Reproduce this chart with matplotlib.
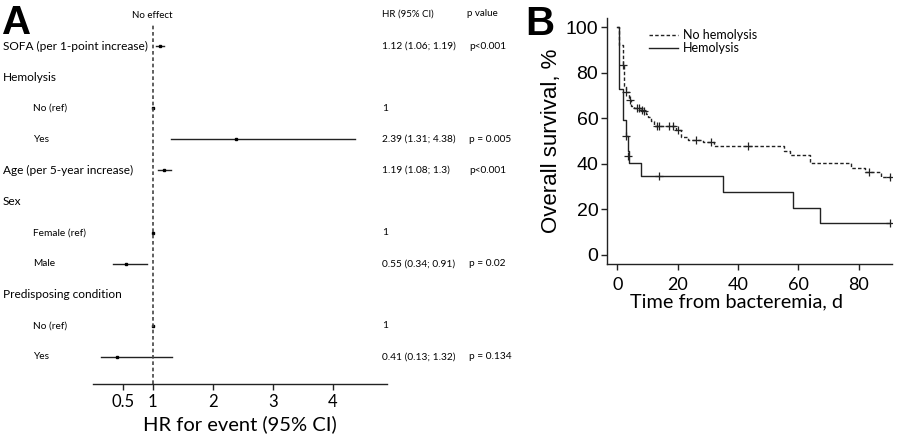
import matplotlib
matplotlib.use('Agg')
import matplotlib.pyplot as plt
import matplotlib.transforms as mtransforms
import numpy as np

CAL = ['Lato', 'DejaVu Sans']
ARIAL = ['Liberation Sans', 'DejaVu Sans']
INK = '#222222'

########################################
####Forest plot data (panel A)
########################################
rowLabels = ['SOFA (per 1-point increase)', 'Hemolysis', 'No (ref)', 'Yes',
             'Age (per 5-year increase)', 'Sex', 'Female (ref)', 'Male',
             'Predisposing condition', 'No (ref)', 'Yes']
rowIndent = [0, 0, 1, 1, 0, 0, 1, 1, 0, 1, 1]
hrVal = [1.12, np.nan, 1, 2.39, 1.19, np.nan, 1, 0.55, np.nan, 1, 0.41]
hrLow = [1.06, np.nan, np.nan, 1.31, 1.08, np.nan, np.nan, 0.34, np.nan, np.nan, 0.13]
hrHigh = [1.19, np.nan, np.nan, 4.38, 1.3, np.nan, np.nan, 0.91, np.nan, np.nan, 1.32]
hrText = ['1.12 (1.06; 1.19)', '', '1', '2.39 (1.31; 4.38)', '1.19 (1.08; 1.3)', '',
          '1', '0.55 (0.34; 0.91)', '', '1', '0.41 (0.13; 1.32)']
pText = ['p<0.001', '', '', 'p = 0.005', 'p<0.001', '', '', 'p = 0.02', '', '', 'p = 0.134']
forestTicks = [0.5, 1, 2, 3, 4]
forestTickLabels = ['0.5', '1', '2', '3', '4']

########################################
####Kaplan-Meier data (panel B)
########################################
noHemT = [0, 0.7, 1.9, 2.1, 3.0, 3.8, 4.6, 5.5, 7.8, 8.6, 9.4, 10.3, 11.3, 12.3,
          19.6, 21.0, 23.5, 28.5, 32.0, 55.3, 57.2, 63.8, 77.3, 82.0, 87.3, 90.3]
noHemS = [100, 92.3, 83.5, 74.0, 71.5, 68.0, 65.5, 64.5, 63.8, 63.0, 61.9, 60.6, 58.7, 56.4,
          55.0, 51.6, 50.6, 49.5, 47.7, 45.7, 43.7, 40.3, 38.0, 36.6, 34.2, 34.2]
noHemCensT = [1.9, 3.0, 4.1, 6.4, 7.2, 8.1, 8.9, 13.2, 13.9, 17.2, 18.3, 20.2, 26.1, 31.0, 43.4, 83.3, 90.3]
noHemCensS = [83.5, 71.5, 68.0, 64.5, 64.5, 63.8, 63.0, 56.4, 56.4, 56.4, 56.4, 55.0, 50.6, 49.5, 47.7, 36.6, 34.2]

hemT = [0, 0.7, 2.0, 2.8, 3.4, 3.9, 7.8, 35.1, 58.3, 67.3, 90.3]
hemS = [100, 72.7, 59.1, 52.3, 45.5, 40.5, 34.7, 27.8, 20.8, 13.9, 13.9]
hemCensT = [2.9, 3.6, 13.9, 90.3]
hemCensS = [52.3, 43.3, 34.7, 13.9]

fig = plt.figure(figsize=(9, 4.41), dpi=100)

def fx(px):
  return px / 900.

def fy(py):
  return 1 - py / 441.

########################################
####Panel A
########################################
axA = fig.add_axes([fx(92.7), fy(384.3), fx(294), fy(20) - fy(384.3)])
nRows = len(rowLabels)
ypos = np.arange(nRows)
axA.set_ylim(nRows - 1 + 0.88, -0.84)
axA.set_xlim(0, 4.9)

for i in range(nRows):
  if np.isnan(hrVal[i]):
    continue
  if not np.isnan(hrLow[i]):
    axA.plot([hrLow[i], hrHigh[i]], [ypos[i], ypos[i]], color=INK, lw=1.0)
  axA.plot(hrVal[i], ypos[i], marker='s', color='black', markersize=2.0, linestyle='none')

axA.axvline(1, ymin=0, ymax=0.985, color='#444444', lw=1.2, linestyle=(0, (2.2, 1.6)))
axA.text(1, -0.84, 'No effect', ha='center', va='bottom', fontsize=7, family=CAL)

for side in ['left', 'right', 'top']:
  axA.spines[side].set_visible(False)
axA.spines['bottom'].set_linewidth(1.0)
axA.spines['bottom'].set_color(INK)
axA.set_yticks([])
axA.set_xticks(forestTicks)
axA.set_xticklabels(forestTickLabels, fontsize=12, family=CAL)
axA.tick_params(axis='x', length=4, width=1.0, color=INK, pad=3)
axA.set_xlabel('HR for event (95% CI)', fontsize=14.5, family=CAL, labelpad=4)

trans = mtransforms.blended_transform_factory(fig.transFigure, axA.transData)
for i in range(nRows):
  if rowIndent[i]:
    axA.text(fx(33), ypos[i], rowLabels[i], transform=trans, fontsize=7.3, family=CAL,
             va='center', ha='left')
  else:
    axA.text(fx(3), ypos[i], rowLabels[i], transform=trans, fontsize=8.6, family=CAL,
             va='center', ha='left')

for i in range(nRows):
  if hrText[i]:
    axA.text(fx(382), ypos[i], hrText[i], transform=trans, fontsize=7.3, family=CAL, va='center')
  if pText[i]:
    axA.text(fx(469), ypos[i], pText[i], transform=trans, fontsize=7.3, family=CAL, va='center')
fig.text(fx(382), fy(14), 'HR (95% CI)', fontsize=7.0, family=CAL, va='center')
fig.text(fx(467), fy(14), 'p value', fontsize=7.0, family=CAL, va='center')

fig.text(fx(2), fy(34), 'A', fontsize=29, fontweight='bold', family=ARIAL, va='baseline')
fig.text(fx(525), fy(35), 'B', fontsize=29, fontweight='bold', family=ARIAL, va='baseline')

########################################
####Panel B
########################################
axB = fig.add_axes([fx(606.7), fy(264.3), fx(892 - 606.7), fy(18) - fy(264.3)])
axB.step(noHemT, noHemS, where='post', color=INK, lw=1.0, linestyle=(0, (2.5, 1.6)),
         label='No hemolysis')
axB.step(hemT, hemS, where='post', color=INK, lw=1.0, label='Hemolysis')
axB.plot(noHemCensT, noHemCensS, marker='+', color=INK, markersize=6, mew=0.9, linestyle='none')
axB.plot(hemCensT, hemCensS, marker='+', color=INK, markersize=6, mew=0.9, linestyle='none')

axB.set_xlim(-3.5, 91)
axB.set_ylim(-4.1, 104)
axB.set_xticks([0, 20, 40, 60, 80])
axB.set_yticks([0, 20, 40, 60, 80, 100])
for lab in axB.get_xticklabels():
  lab.set_family(CAL)
  lab.set_fontsize(13)
for lab in axB.get_yticklabels():
  lab.set_family(ARIAL)
  lab.set_fontsize(14)
axB.tick_params(length=4, width=1.0, color=INK, pad=2)
axB.tick_params(axis='x', pad=5)
axB.spines['top'].set_visible(False)
axB.spines['right'].set_visible(False)
for side in ['left', 'bottom']:
  axB.spines[side].set_color(INK)
  axB.spines[side].set_linewidth(1.0)
axB.set_ylabel('Overall survival, %', fontsize=16, family=ARIAL, labelpad=3)
axB.set_xlabel('Time from bacteremia, d', fontsize=14.3, family=CAL, labelpad=0)
axB.xaxis.set_label_coords(0.455, -0.12)

leg = axB.legend(loc='upper left', bbox_to_anchor=(0.11, 1.0), frameon=False,
                 prop={'family': CAL, 'size': 9}, handlelength=2.3,
                 handletextpad=0.4, labelspacing=0.1)

fig.savefig('out.png', dpi=100)
